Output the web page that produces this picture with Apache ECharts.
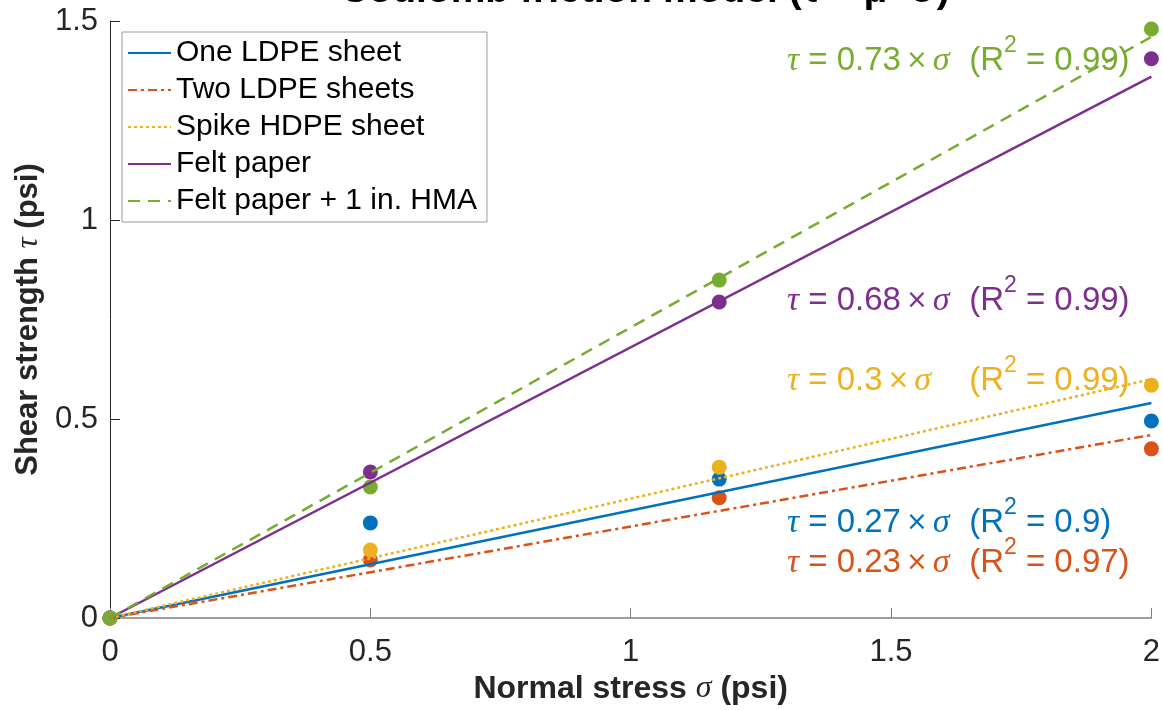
<!DOCTYPE html>
<html>
<head>
<meta charset="utf-8">
<title>Coulomb friction model</title>
<script src="https://cdn.jsdelivr.net/npm/echarts@6.0.0/dist/echarts.min.js"></script>
<style>
  html, body { margin: 0; padding: 0; background: #fff; }
  #main { width: 1163px; height: 710px; }
</style>
</head>
<body>
<div id="main"></div>
<script>
// normal stress of the tests (psi)
var stressX = [0, 0.5, 1.17, 2];

// measured shear strength (psi)
var oneLdpe   = [0, 0.239, 0.349, 0.495];
var twoLdpe   = [0, 0.146, 0.302, 0.425];
var spikeHdpe = [0, 0.171, 0.379, 0.585];
var feltPaper = [0, 0.367, 0.794, 1.405];
var feltHma   = [0, 0.329, 0.849, 1.48];

// fitted lines tau = mu x sigma, drawn from 0 to 2 psi
var fitX = [0, 2];
var fitOne   = [0, 0.54];
var fitTwo   = [0, 0.46];
var fitSpike = [0, 0.6];
var fitFelt  = [0, 1.36];
var fitHma   = [0, 1.46];

var names  = ['One LDPE sheet', 'Two LDPE sheets', 'Spike HDPE sheet', 'Felt paper', 'Felt paper + 1 in. HMA'];
var slopes = ['0.27', '0.23', '0.3', '0.68', '0.73'];
var r2     = ['0.9', '0.97', '0.99', '0.99', '0.99'];
var colors = ['#0072BD', '#D95319', '#EDB120', '#7E2F8E', '#77AC30'];
var dashes = ['solid', [9, 4, 3, 4], [3, 3], 'solid', [12, 8]];

// where the equations sit (data units)
var eqX = 1.30, eqRX = 1.65;
var eqY = [0.238, 0.138, 0.595, 0.797, 1.40];

var xTicks = [0, 0.5, 1, 1.5, 2];
var yTicks = [0, 0.5, 1, 1.5];

var measured = [oneLdpe, twoLdpe, spikeHdpe, feltPaper, feltHma];
var fitted   = [fitOne, fitTwo, fitSpike, fitFelt, fitHma];

function pairs(xs, ys) {
    var out = [];
    for (var i = 0; i < xs.length; i++) out.push([xs[i], ys[i]]);
    return out;
}

var rich = {
    t: { fontFamily: 'Liberation Serif', fontStyle: 'italic', fontSize: 34, lineHeight: 54 },
    n: { fontSize: 33, lineHeight: 54 },
    x: { fontFamily: 'DejaVu Sans', fontSize: 26, lineHeight: 54, padding: [0, 5, 0, 5] },
    s: { fontSize: 23, lineHeight: 23, verticalAlign: 'top' }
};

var series = [];
// dots first so the fit lines run over them
for (var i = 0; i < 5; i++) {
    series.push({
        name: names[i] + ' data',
        type: 'scatter',
        data: pairs(stressX, measured[i]),
        symbolSize: 15,
        itemStyle: { color: colors[i], opacity: 1 },
        z: 2
    });
}
for (var j = 0; j < 5; j++) {
    series.push({
        name: names[j],
        type: 'line',
        data: pairs(fitX, fitted[j]),
        symbol: 'none',
        lineStyle: { color: colors[j], width: 2.5, type: dashes[j] },
        itemStyle: { color: colors[j] },
        z: 3,
        markPoint: {
            symbol: 'circle',
            symbolSize: 0,
            silent: true,
            label: {
                show: true,
                position: 'right',
                distance: 0,
                color: colors[j],
                fontFamily: 'Liberation Sans',
                fontSize: 33,
                lineHeight: 54,
                rich: rich
            },
            data: [
                { coord: [eqX, eqY[j]], label: { formatter: '{t|τ}{n| = ' + slopes[j] + '}{x|×}{t|σ}' } },
                { coord: [eqRX, eqY[j]], label: { formatter: '{n|(R}{s|2}{n| = ' + r2[j] + ')}' } }
            ]
        }
    });
}

var chart = echarts.init(document.getElementById('main'));
chart.setOption({
    backgroundColor: '#fff',
    animation: false,
    textStyle: { fontFamily: 'Liberation Sans' },
    title: {
        text: 'Coulomb friction model (τ = μ×σ)',
        left: 640,
        textAlign: 'center',
        top: -33,
        textStyle: { fontSize: 39, fontWeight: 'bold', color: '#000', fontFamily: 'Liberation Sans' }
    },
    grid: { left: 110, right: 9, top: 21, bottom: 91 },
    legend: {
        data: names,
        orient: 'vertical',
        left: 122,
        top: 32,
        itemWidth: 43,
        itemHeight: 14,
        itemGap: 7,
        padding: [6, 10, 6, 5],
        backgroundColor: '#fff',
        borderColor: '#9a9a9a',
        borderWidth: 1,
        selectedMode: false,
        itemStyle: { opacity: 0 },
        textStyle: { fontSize: 30, lineHeight: 30, color: '#000', fontFamily: 'Liberation Sans' }
    },
    xAxis: {
        type: 'value',
        min: xTicks[0],
        max: xTicks[xTicks.length - 1],
        interval: 0.5,
        name: 'Normal stress {g|σ} (psi)',
        nameLocation: 'middle',
        nameGap: 55,
        nameTextStyle: {
            fontSize: 32, fontWeight: 'bold', color: '#262626',
            rich: { g: { fontFamily: 'Liberation Serif', fontStyle: 'italic', fontWeight: 'normal', fontSize: 32, color: '#262626' } }
        },
        axisLine: { show: true, lineStyle: { color: '#808080', width: 1.5 } },
        axisTick: { show: true, inside: true, length: 10, lineStyle: { color: '#808080' } },
        axisLabel: { fontSize: 31, color: '#262626', margin: 19 },
        splitLine: { show: false }
    },
    yAxis: {
        type: 'value',
        min: yTicks[0],
        max: yTicks[yTicks.length - 1],
        interval: 0.5,
        name: 'Shear strength {g|τ} (psi)',
        nameLocation: 'middle',
        nameGap: 62,
        nameTextStyle: {
            fontSize: 31, fontWeight: 'bold', color: '#262626',
            rich: { g: { fontFamily: 'Liberation Serif', fontStyle: 'italic', fontWeight: 'normal', fontSize: 31, color: '#262626' } }
        },
        axisLine: { show: true, lineStyle: { color: '#262626', width: 1 } },
        axisTick: { show: true, inside: true, length: 10, lineStyle: { color: '#262626' } },
        axisLabel: { fontSize: 31, color: '#262626', margin: 12 },
        splitLine: { show: false }
    },
    series: series
});
</script>
</body>
</html>
